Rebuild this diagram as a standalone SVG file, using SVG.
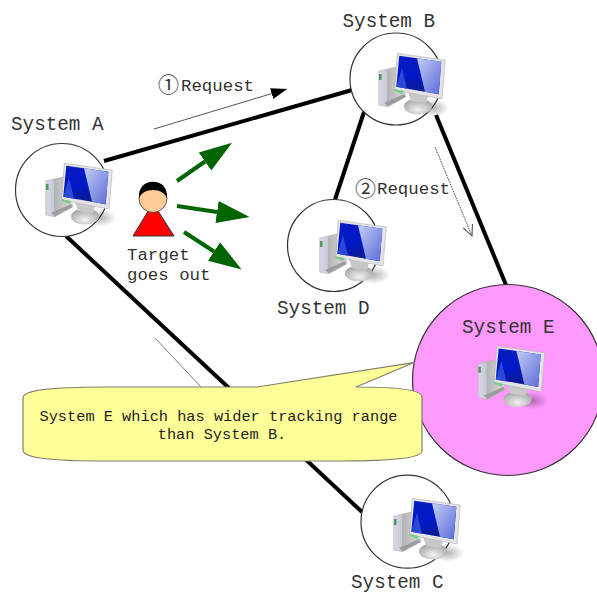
<svg xmlns="http://www.w3.org/2000/svg" width="597" height="594" viewBox="0 0 597 594">
<style>
.ring{fill:#fff;stroke:#333;stroke-width:1.2}
.link{stroke:#000;stroke-width:4;fill:none}
.go{stroke:#006400;stroke-width:4;fill:none;marker-end:url(#bigHead)}
.lbl{font-family:"Liberation Mono",monospace;font-size:19.3px;fill:#333}
.sm{font-family:"Liberation Mono",monospace;font-size:17.4px;fill:#333}
.num{font-family:"Noto Sans CJK JP",sans-serif;font-size:21px;fill:#333}
.call{font-family:"Liberation Mono",monospace;font-size:15.3px;fill:#222;text-anchor:middle}
</style>
<defs>
<linearGradient id="scr" x1="0" y1="0" x2="0.3" y2="1"><stop offset="0" stop-color="#0a1cc0"/><stop offset=".55" stop-color="#0018c8"/><stop offset="1" stop-color="#0a1a90"/></linearGradient>
<linearGradient id="hl" x1="0" y1="0" x2="1" y2="1"><stop offset="0" stop-color="#c4cef6"/><stop offset="1" stop-color="#5a6ad8"/></linearGradient>
<linearGradient id="twr" x1="0" y1="0" x2="1" y2="0"><stop offset="0" stop-color="#d8d8e8"/><stop offset=".3" stop-color="#c8c8d8"/><stop offset=".32" stop-color="#b4b4b4"/><stop offset="1" stop-color="#dcdcdc"/></linearGradient>
<radialGradient id="bs" cx=".5" cy=".7" r=".65"><stop offset="0" stop-color="#f2f2f2"/><stop offset="1" stop-color="#a4a4a4"/></radialGradient>
<radialGradient id="sh"><stop offset="0" stop-color="#000" stop-opacity=".3"/><stop offset="1" stop-color="#000" stop-opacity="0"/></radialGradient>
<marker id="bigHead" markerUnits="userSpaceOnUse" markerWidth="34" markerHeight="24" refX="0" refY="12" orient="auto"><path d="M0 1L33 12L0 23Z" fill="#006400"/></marker>
<marker id="thin" markerUnits="userSpaceOnUse" markerWidth="17" markerHeight="13" refX="16" refY="6" orient="auto"><path d="M0 0.500L16 6L0 11.500Z" fill="#000"/></marker>
<marker id="open" markerUnits="userSpaceOnUse" markerWidth="14" markerHeight="14" refX="12" refY="7" orient="auto"><path d="M1 2L12 7L1 12" fill="none" stroke="#444" stroke-width="1"/></marker>
<symbol id="pc" overflow="visible" viewBox="0 0 597 594" width="597" height="594">
<ellipse cx="100" cy="218" rx="16" ry="9" fill="url(#sh)"/>
<path d="M45.700 181L64.300 176.700L73 206.700L55 216.700L45.700 215Z" fill="url(#twr)" stroke="#aaa" stroke-width=".5"/>
<path d="M51 213L71 204L72.500 207L55 216Z" fill="#9c9c9c"/>
<path d="M46 184h2.500v6h-2.500z" fill="#4f9a5c"/>
<ellipse cx="85" cy="216.500" rx="14" ry="8" fill="url(#bs)"/>
<path d="M75 202L95 206L93 213L78 211Z" fill="#c8c8c8"/>
<path d="M64.300 163.300L112.300 170L109 209L61.700 200Z" fill="#e4e4e8" stroke="#b0b0b0" stroke-width=".6"/>
<path d="M66.300 165.700L108.300 171.700L105.700 204.300L63.300 196.700Z" fill="url(#scr)"/>
<path d="M84 168.300L108.300 171.700L105.700 204.300L92 201.800Z" fill="url(#hl)"/>
<path d="M63.300 196.700L69 178L74 198.700Z" fill="#2c48d8"/>
<path d="M61 199L71 201L69 204L62 201Z" fill="#7ccc88"/>
</symbol>
</defs>
<g id="connectors">
<line class="link" x1="104" y1="161" x2="352" y2="90"/>
<line class="link" x1="364" y1="112" x2="335" y2="199.500"/>
<line class="link" x1="436" y1="115" x2="508.500" y2="291"/>
<line class="link" x1="66" y1="236" x2="362" y2="512"/>
<line x1="154" y1="129" x2="287" y2="89" stroke="#555" stroke-width="1" marker-end="url(#thin)"/>
<line x1="435" y1="147" x2="472" y2="236" stroke="#444" stroke-width="1" stroke-dasharray="1.500 1" marker-end="url(#open)"/>
<line x1="155" y1="338" x2="201" y2="387" stroke="#777" stroke-width="1"/>
<line class="go" x1="177" y1="181" x2="205" y2="161.500"/>
<line class="go" x1="177" y1="206" x2="217" y2="212"/>
<line class="go" x1="184" y1="232" x2="214" y2="251.500"/>
</g>
<g id="system-a"><circle class="ring" cx="62" cy="190" r="46.500"/><use href="#pc"/><text class="lbl" x="11" y="129.500">System A</text></g>
<g id="system-b"><circle class="ring" cx="396" cy="79" r="46"/><use href="#pc" x="333" y="-110"/><text class="lbl" x="342.500" y="27">System B</text></g>
<g id="system-d"><circle class="ring" cx="333.500" cy="245.500" r="46"/><use href="#pc" x="274" y="57"/><text class="lbl" x="277" y="314">System D</text></g>
<g id="system-c"><circle class="ring" cx="407.500" cy="521.700" r="46.500"/><use href="#pc" x="348" y="335"/><text class="lbl" x="351" y="588">System C</text></g>
<g id="system-e"><circle cx="508" cy="380" r="95.500" fill="#ff99ff" stroke="#333" stroke-width="1.200"/><use href="#pc" x="432.400" y="182.700"/><text class="lbl" x="462" y="333">System E</text></g>
<g id="target">
<path d="M133 236H174L153 203Z" fill="#f00" stroke="#333"/>
<circle cx="153" cy="198.500" r="14" fill="#ffcc99" stroke="#333" stroke-width=".8"/>
<path d="M139 198.500C138 187 145 181.700 153 181.700C161 181.700 168 187 167 198.500C165 193 160 190 153 190C146 190 141 193 139 198.500Z" fill="#000"/>
<text class="sm" x="127" y="259.500">Target</text>
<text class="sm" x="127" y="280">goes out</text>
</g>
<text class="num" x="158" y="92">①</text><text class="sm" x="181" y="90.500">Request</text>
<text class="num" x="355" y="195.500">②</text><text class="sm" x="377" y="194">Request</text>
<g id="callout">
<path d="M257 387L413.500 362.700L356 387C400 387 422 390 422 397V451C422 458 390 461 340 461H105C50 461 23 458 23 450V398C23 390 50 387 105 387Z" fill="#ffff99" stroke="#808068" stroke-width="1.200"/>
<text class="call" x="218.500" y="421">System E which has wider tracking range</text>
<text class="call" x="222" y="438.500">than System B.</text>
</g>
</svg>
